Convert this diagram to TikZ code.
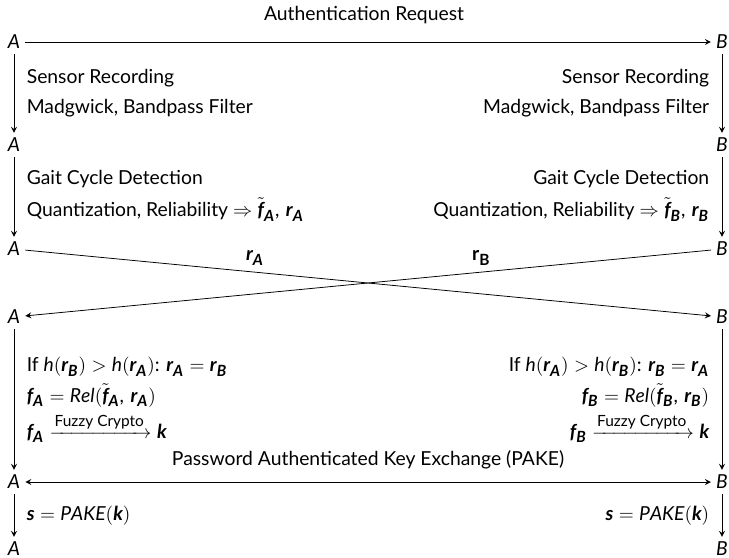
\documentclass[tikz,border=0pt]{standalone}
\usepackage{amsmath,amssymb}
\usepackage{fontspec}
\setmainfont{Lato}
\usepackage[italic,nolessnomore,noequal,nosmalldelims]{mathastext}
\usepackage{tikz}
\usetikzlibrary{arrows,positioning}

\newcommand{\bsym}[1]{\boldsymbol{#1}}

\begin{document}
\begin{tikzpicture}[
    x=0.0182cm, y=-0.0182cm,
    party/.style={inner sep=2.5pt},
    msg/.style={draw, ->, >=stealth},
    local/.style={draw, ->, >=stealth},
    lblleft/.style={anchor=west, align=left, font=\linespread{1.3}\selectfont},
    lblright/.style={anchor=east, align=right, font=\linespread{1.3}\selectfont}
]
\useasboundingbox (0,0) rectangle (729,557);

% Party A
\node[party] (a0) at (14,42) {$A$};
\node[party] (a1) at (14,145) {$A$};
\node[party] (a2) at (14,249) {$A$};
\node[party] (a3) at (14,317) {$A$};
\node[party] (a4) at (14,482) {$A$};
\node[party] (a5) at (14,549) {$A$};

% Party B
\node[party] (b0) at (722,42) {$B$};
\node[party] (b1) at (722,145) {$B$};
\node[party] (b2) at (722,249) {$B$};
\node[party] (b3) at (722,317) {$B$};
\node[party] (b4) at (722,482) {$B$};
\node[party] (b5) at (722,549) {$B$};

% Messages between A and B
\draw[msg] (a0) -- (b0);
\node (req) at (364,15) {Authentication Request};
\draw[msg] (a2) -- node[pos=0.335, above] (ra) {$\bsym{r}_{\bsym{A}}$} (b3);
\draw[msg] (b2) -- node[pos=0.335, above] (rb) {$\mathbf{r}_{\mathbf{B}}$} (a3);
\draw[msg, <->] (a4) -- (b4);
\node (pake) at (368,460) {Password Authenticated Key Exchange (PAKE)};

% Local steps of A
\draw[local] (a0) -- (a1);
\node[lblleft] (sa1) at (20,93) {Sensor Recording\\Madgwick, Bandpass Filter};
\draw[local] (a1) -- (a2);
\node[lblleft] (sa2) at (20,196) {Gait Cycle Detection\\[1pt]Quantization, Reliability $\Rightarrow \tilde{\bsym{f}}_{\bsym{A}},\, \bsym{r}_{\bsym{A}}$};
\draw[local] (a3) -- (a4);
\node[lblleft] (sa3) at (20,400) {If $h(\bsym{r}_{\bsym{B}}) > h(\bsym{r}_{\bsym{A}})$: $\bsym{r}_{\bsym{A}} = \bsym{r}_{\bsym{B}}$\\$\bsym{f}_{\bsym{A}} = \mathit{Rel}(\tilde{\bsym{f}}_{\bsym{A}},\, \bsym{r}_{\bsym{A}})$\\[3pt]$\bsym{f}_{\bsym{A}} \xrightarrow{\text{Fuzzy Crypto}} \bsym{k}$};
\draw[local] (a4) -- (a5);
\node[lblleft] (sa4) at (20,516) {$\bsym{s} = \mathit{PAKE}(\bsym{k})$};

% Local steps of B
\draw[local] (b0) -- (b1);
\node[lblright] (sb1) at (716,93) {Sensor Recording\\Madgwick, Bandpass Filter};
\draw[local] (b1) -- (b2);
\node[lblright] (sb2) at (716,196) {Gait Cycle Detection\\[1pt]Quantization, Reliability $\Rightarrow \tilde{\bsym{f}}_{\bsym{B}},\, \bsym{r}_{\bsym{B}}$};
\draw[local] (b3) -- (b4);
\node[lblright] (sb3) at (716,400) {If $h(\bsym{r}_{\bsym{A}}) > h(\bsym{r}_{\bsym{B}})$: $\bsym{r}_{\bsym{B}} = \bsym{r}_{\bsym{A}}$\\$\bsym{f}_{\bsym{B}} = \mathit{Rel}(\tilde{\bsym{f}}_{\bsym{B}},\, \bsym{r}_{\bsym{B}})$\\[3pt]$\bsym{f}_{\bsym{B}} \xrightarrow{\text{Fuzzy Crypto}} \bsym{k}$};
\draw[local] (b4) -- (b5);
\node[lblright] (sb4) at (716,516) {$\bsym{s} = \mathit{PAKE}(\bsym{k})$};

\end{tikzpicture}
\end{document}
